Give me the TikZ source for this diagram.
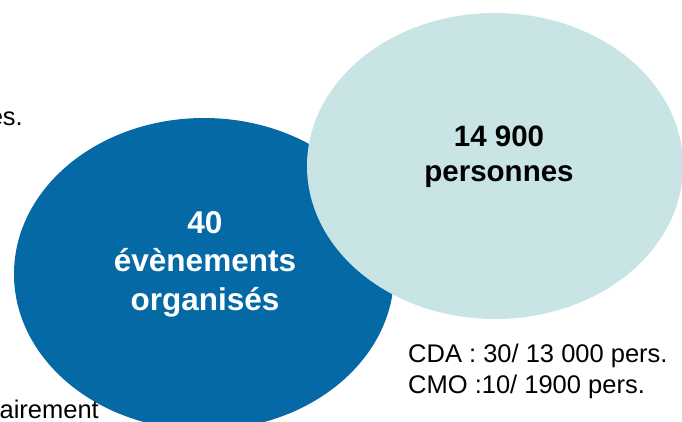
\documentclass[tikz,border=0pt]{standalone}
\usepackage{fontspec}
\setmainfont{Liberation Sans}
\usetikzlibrary{shapes.geometric}
\definecolor{darkblue}{HTML}{0569A6}
\definecolor{lightteal}{HTML}{C8E4E5}
\tikzset{
  blob/.style={ellipse, inner sep=0pt, draw=none},
  plain/.style={font=\fontsize{25.5}{31}\selectfont, text=black, inner sep=0pt},
}
\begin{document}
\begin{tikzpicture}[x=1pt,y=-1pt]
\useasboundingbox (0,0) rectangle (682,421);
\clip (0,0) rectangle (682,421);
\node[blob, fill=darkblue, minimum width=380pt, minimum height=312pt] (dark) at (204,274) {};
\node[blob, fill=lightteal, minimum width=376pt, minimum height=306pt] (light) at (495,166) {};
\node[anchor=base, text=white, inner sep=0pt, font=\bfseries\fontsize{31.5}{38.5}\selectfont, align=center] (t40) at (205,310) {40\\évènements\\organisés};
\node[anchor=base, text=black, inner sep=0pt, font=\bfseries\fontsize{29.5}{35}\selectfont, align=center] (t149) at (499,181) {14 900\\personnes};
\node[plain, anchor=base west, align=left] (cda) at (408,393) {CDA : 30/ 13 000 pers.\\CMO :10/ 1900 pers.};
\node[plain, anchor=base east] (es) at (23,125) {es.};
\node[plain, anchor=base east] (air) at (99,418) {airement};
\end{tikzpicture}
\end{document}
